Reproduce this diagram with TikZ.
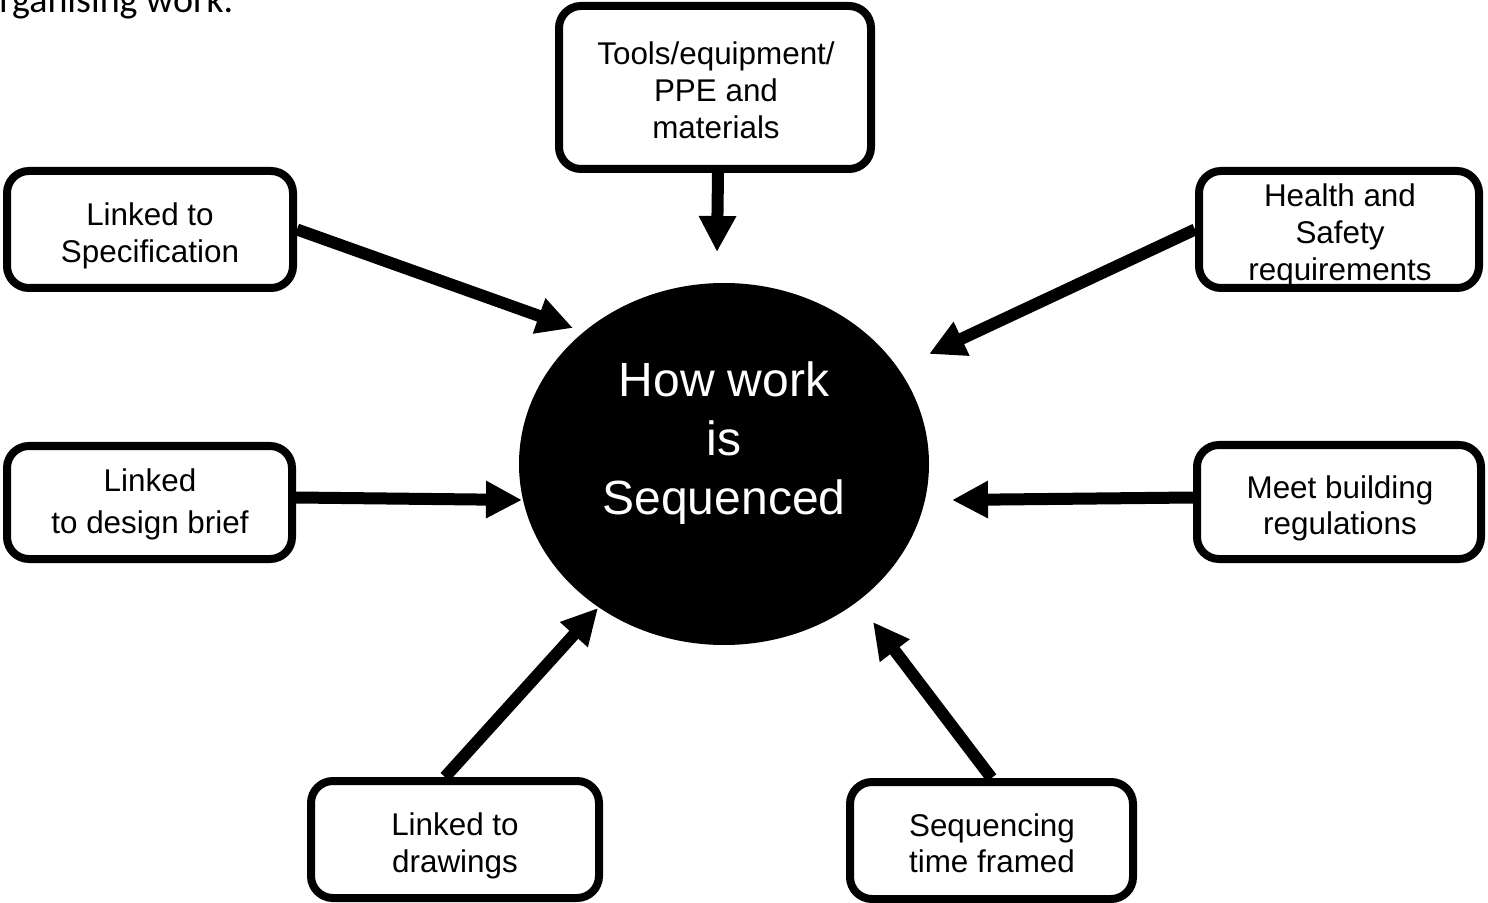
\documentclass[tikz,border=0pt]{standalone}
\usepackage{fontspec}
\setmainfont{Liberation Sans}
\newfontfamily\introfont{Carlito}
\usetikzlibrary{arrows.meta,shapes.geometric,calc}

\begin{document}
\begin{tikzpicture}[x=0.5pt,y=-0.5pt,
  box/.style={draw=black, line width=4pt, rounded corners=11pt, fill=white, inner sep=0pt},
  boxtext/.style={anchor=north, align=center, inner sep=0pt, font=\fontsize{15.7}{18.5}\selectfont},
  feed/.style={line width=6pt, -{Triangle[length=18pt,width=17.5pt]}},
  hub/.style={ellipse, fill=black, inner sep=0pt, minimum width=205pt, minimum height=181pt},
  hubtext/.style={anchor=north, align=center, inner sep=0pt, text=white, font=\fontsize{24}{29.5}\selectfont}]

\useasboundingbox (0,0) rectangle (1488,903);

% tail of the sentence above the diagram
\node[anchor=base west, inner sep=0pt, font=\introfont\fontsize{19}{23}\selectfont] (intro) at (-1,13) {rganising work.};

% central ellipse
\node[hub] (hub) at (724,464) {};
\node[hubtext] (hubtext) at (724,361) {How work\\is\\Sequenced};

% surrounding boxes
\node[box, minimum width=156pt, minimum height=81.5pt] (tools) at (715,87.5) {};
\node[boxtext] (toolstext) at (716,41.5) {Tools/equipment/\\PPE and\\materials};

\node[box, minimum width=143pt, minimum height=58.5pt] (spec) at (150,229.5) {};
\node[boxtext] (spectext) at (150,202.5) {Linked to\\Specification};

\node[box, minimum width=140pt, minimum height=58.5pt] (health) at (1339,229.5) {};
\node[boxtext, font=\fontsize{15.7}{18.7}\selectfont] (healthtext) at (1340,183) {Health and\\Safety\\requirements};

\node[box, minimum width=142.5pt, minimum height=56.5pt] (brief) at (149.5,502.5) {};
\node[boxtext] (brieftext) at (150,468.5) {Linked\\[2.5pt]to design brief};

\node[box, minimum width=142pt, minimum height=57pt] (meet) at (1339,502) {};
\node[boxtext] (meettext) at (1340,475) {Meet building\\[-0.5pt]regulations};

\node[box, minimum width=144pt, minimum height=58.5pt] (drawings) at (455,839.5) {};
\node[boxtext] (drawingstext) at (455,812.5) {Linked to\\drawings};

\node[box, minimum width=141.5pt, minimum height=58.5pt] (seq) at (991.5,840.5) {};
\node[boxtext] (seqtext) at (992,813) {Sequencing\\[-0.5pt]time framed};

% arrow tips around the ellipse
\coordinate (tTools) at (717,252);
\coordinate (tSpec) at (573,328);
\coordinate (tHealth) at (929,354);
\coordinate (tBrief) at (522,500);
\coordinate (tMeet) at (952,500);
\coordinate (tDraw) at (598,608);
\coordinate (tSeq) at (873,622);

% connectors
\draw[feed] ([xshift=1.5pt]tools.south) -- (tTools);
\draw[feed] (spec.east) -- (tSpec);
\draw[feed] (health.west) -- (tHealth);
\draw[feed] ($(brief.east)+(0,-5)$) -- (tBrief);
\draw[feed] ($(meet.west)+(0,-4.5)$) -- (tMeet);
\draw[feed] ($(drawings.north)+(-10,0)$) -- (tDraw);
\draw[feed] (seq.north) -- (tSeq);
\end{tikzpicture}
\end{document}
